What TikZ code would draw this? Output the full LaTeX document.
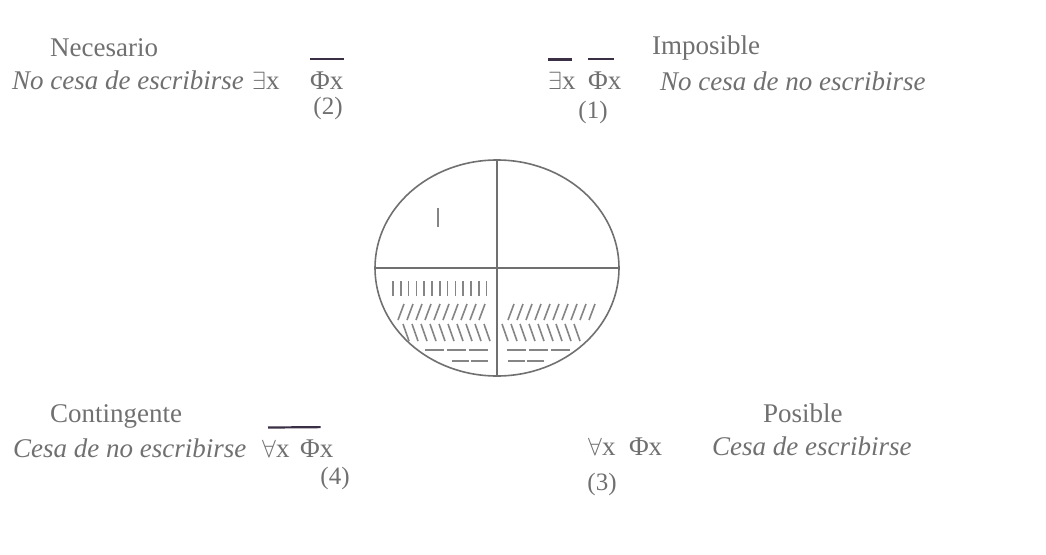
\documentclass[tikz,border=0pt]{standalone}
\usepackage{fontspec}
\setmainfont{Liberation Serif}
\usepackage{xcolor}
\usetikzlibrary{positioning,shapes.geometric}
\definecolor{scan}{HTML}{707070}
\definecolor{barcol}{HTML}{3B2F45}
\tikzset{
  hd/.style={font=\fontsize{27}{32}\selectfont, text=scan, inner sep=0pt, anchor=base west},
  md/.style={font=\fontsize{27}{32}\selectfont\itshape, text=scan, inner sep=0pt, anchor=base west},
  fm/.style={font=\fontsize{27}{32}\selectfont, text=scan, inner sep=0pt, anchor=base west},
  nr/.style={font=\fontsize{25}{30}\selectfont, text=scan, inner sep=0pt},
  neg/.style={draw=barcol, line width=2.2pt},
  disc/.style={ellipse, draw=scan, line width=1.6pt, minimum width=244pt, minimum height=216pt, inner sep=0pt},
  cut/.style={draw=scan, line width=1.4pt},
  hatch/.style={draw=scan!85, line width=1.6pt},
  dsh/.style={draw=scan!85, line width=1.1pt}
}

\begin{document}
\begin{tikzpicture}[x=1pt, y=-1pt]
  \useasboundingbox (0,0) rectangle (1046,554);

  \node[hd] (nec) at (50,56) {Necesario};
  \node[md] (nec-m) at (12,89) {No cesa de escribirse};
  \node[fm] (ex2) at (252,89) {$\exists$x};
  \node[fm] (phi2) at (310,89) {Φx};
  \node[nr] (n2) at (328,108) {(2)};
  \draw[neg] ([yshift=12pt]phi2.north west) -- ([yshift=12pt]phi2.north east);

  \node[hd] (imp) at (652,54) {Imposible};
  \node[fm] (ex1) at (548,89) {$\exists$x};
  \node[fm] (phi1) at (588,89) {Φx};
  \node[md] (imp-m) at (660,90) {No cesa de no escribirse};
  \node[nr] (n1) at (593,112) {(1)};
  \draw[neg] ([yshift=12pt]ex1.north west) -- ([yshift=12pt,xshift=-4pt]ex1.north east);
  \draw[neg] ([yshift=12pt]phi1.north west) -- ([yshift=12pt,xshift=-8pt]phi1.north east);

  \node[hd] (con) at (50,422) {Contingente};
  \node[md] (con-m) at (13,457) {Cesa de no escribirse};
  \node[fm] (fa4) at (262,457) {$\forall$x};
  \node[fm] (phi4) at (300,457) {Φx};
  \node[nr] (n4) at (335,478) {(4)};
  \draw[neg] ([yshift=12pt,xshift=6pt]fa4.north west) -- ([yshift=12pt,xshift=-13pt]phi4.north east);

  \node[hd] (pos) at (763,422) {Posible};
  \node[fm] (fa3) at (588,455) {$\forall$x\ \ Φx};
  \node[md] (pos-m) at (712,455) {Cesa de escribirse};
  \node[nr] (n3) at (602,484) {(3)};

  \node[disc] (d) at (497,268) {};
  \draw[cut] (d.north) -- (d.south);
  \draw[cut] (d.west) -- (d.east);
  \draw[hatch, line width=2pt] (438,208) -- (438,227);

  \begin{scope}
    \clip (497,268) ellipse [x radius=121, y radius=107];
    \foreach \i in {0,...,12}
      \draw[hatch] ({393+7.8*\i},281) -- ++(0,15);
    \foreach \i in {0,...,9}
      \draw[hatch] ({398+9*\i},320) -- ++(6,-16);
    \foreach \i in {0,...,9}
      \draw[hatch] ({508+9*\i},320) -- ++(6,-16);
    \foreach \i in {0,...,9}
      \draw[hatch] ({403+9*\i},324) -- ++(6,17);
    \foreach \i in {0,...,8}
      \draw[hatch] ({502+9*\i},324) -- ++(6,17);
    \foreach \a in {425,447,469}
      \draw[dsh] (\a,350) -- ++(19,0);
    \foreach \a in {507,529,551}
      \draw[dsh] (\a,350) -- ++(19,0);
    \foreach \a in {452,471}
      \draw[dsh] (\a,361) -- ++(17,0);
    \foreach \a in {508,527}
      \draw[dsh] (\a,361) -- ++(17,0);
  \end{scope}
\end{tikzpicture}
\end{document}
